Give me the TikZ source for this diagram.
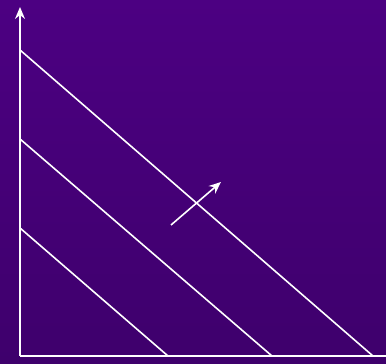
\documentclass[tikz,border=0pt]{standalone}
\usepackage{tikz}
\usetikzlibrary{arrows.meta}
\definecolor{bgtop}{RGB}{76,0,130}
\definecolor{bgbot}{RGB}{62,0,108}
\tikzset{axisarrow/.style={white, -{Stealth[length=12pt, width=10pt,
        inset=4pt]}}}
\begin{document}
\begin{tikzpicture}[x=1pt, y=1pt, line width=1.6pt]
        \shade[top color=bgtop, bottom color=bgbot] (0, 0) rectangle (386,
        364); %
        \useasboundingbox (0, 0) rectangle (386, 364); %
        \coordinate (O) at (20, 8); %
        \coordinate (ytop) at (20, 357); %
        \coordinate (xend) at (386, 8); %
        \draw[axisarrow] (O) -- (ytop); %
        \draw[white] (O) -- (xend); %
        \coordinate (a1) at (20, 314); \coordinate (b1) at (373, 8); %
        \coordinate (a2) at (20, 225); \coordinate (b2) at (272, 8); %
        \coordinate (a3) at (20, 136); \coordinate (b3) at (168, 8); %
        \draw[white] (a1) -- (b1); %
        \draw[white] (a2) -- (b2); %
        \draw[white] (a3) -- (b3); %
        \coordinate (dir0) at (171, 139); %
        \coordinate (dir1) at (221, 182); %
        \draw[axisarrow] (dir0) -- (dir1);
      \end{tikzpicture}
\end{document}
